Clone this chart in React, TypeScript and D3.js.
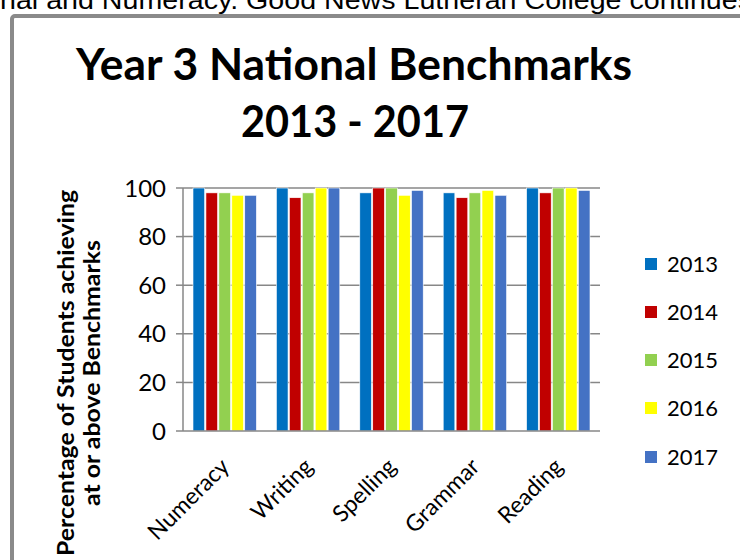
import React, { useEffect, useRef } from "react";
import * as d3 from "d3";

const categories = ["Numeracy", "Writing", "Spelling", "Grammar", "Reading"];
const years = ["2013", "2014", "2015", "2016", "2017"];
const colors = ["#0070C0", "#C00000", "#92D050", "#FFFF00", "#4472C4"];
const values2013 = [100, 100, 98, 98, 100];
const values2014 = [98, 96, 100, 96, 98];
const values2015 = [98, 98, 100, 98, 100];
const values2016 = [97, 100, 97, 99, 100];
const values2017 = [97, 100, 99, 97, 99];
const series = [values2013, values2014, values2015, values2016, values2017];
const yTicks = [0, 20, 40, 60, 80, 100];

const FONT = "Lato, 'Open Sans', sans-serif";

export default function App() {
  const ref = useRef<SVGSVGElement>(null);
  useEffect(() => {
    const svg = d3.select(ref.current);
    svg.selectAll("*").remove();
    const W = 740, H = 560;
    svg.append("rect").attr("width", W).attr("height", H).attr("fill", "#fff");

    // cut-off page text at the very top (as in the reference screenshot)
    svg.append("text").attr("x", 0).attr("y", 9)
      .attr("font-family", "'Liberation Sans', Arial, sans-serif").attr("font-size", 25)
      .attr("fill", "#000")
      .attr("textLength", 752).attr("lengthAdjust", "spacingAndGlyphs")
      .text("nal and Numeracy. Good News Lutheran College continues");

    // frame
    svg.append("rect").attr("x", 12).attr("y", 16).attr("width", 800).attr("height", 700)
      .attr("rx", 3).attr("fill", "#fff").attr("stroke", "#8a8a8a").attr("stroke-width", 4);

    // title
    svg.append("text").attr("x", 354).attr("y", 80).attr("text-anchor", "middle")
      .attr("font-family", FONT).attr("font-weight", "bold").attr("font-size", 44).attr("fill", "#000")
      .attr("textLength", 556).attr("lengthAdjust", "spacingAndGlyphs")
      .text("Year 3 National Benchmarks");
    svg.append("text").attr("x", 355).attr("y", 137).attr("text-anchor", "middle")
      .attr("font-family", FONT).attr("font-weight", "bold").attr("font-size", 44).attr("fill", "#000")
      .attr("textLength", 228).attr("lengthAdjust", "spacingAndGlyphs")
      .text("2013 - 2017");

    const x0 = 183, x1 = 600, yTop = 188, yBot = 431;
    const x = d3.scaleBand<string>().domain(categories).range([x0, x1]).padding(0);
    const y = d3.scaleLinear().domain([0, 100]).range([yBot, yTop]);
    const inner = d3.scaleBand<string>().domain(years)
      .range([10, x.bandwidth() - 10]).paddingInner(0.1).paddingOuter(0);

    // gridlines
    const g = svg.append("g");
    yTicks.forEach((t) => {
      if (t === 0) return;
      g.append("line").attr("x1", x0).attr("x2", x1).attr("y1", y(t)).attr("y2", y(t))
        .attr("stroke", "#878787").attr("stroke-width", 1.5);
    });

    // bars
    series.forEach((vals, si) => {
      svg.append("g").selectAll("rect").data(vals).join("rect")
        .attr("x", (_, i) => (x(categories[i]) as number) + (inner(years[si]) as number))
        .attr("width", inner.bandwidth())
        .attr("y", (d) => y(d))
        .attr("height", (d) => yBot - y(d))
        .attr("fill", colors[si])
        .attr("stroke", "#ffffff").attr("stroke-width", 0.6);
    });

    // axes
    svg.append("line").attr("x1", x0).attr("x2", x0).attr("y1", yTop).attr("y2", yBot)
      .attr("stroke", "#878787").attr("stroke-width", 1.5);
    svg.append("line").attr("x1", x0).attr("x2", x1).attr("y1", yBot).attr("y2", yBot)
      .attr("stroke", "#878787").attr("stroke-width", 1.5);
    yTicks.forEach((t) => {
      svg.append("line").attr("x1", x0 - 7).attr("x2", x0).attr("y1", y(t)).attr("y2", y(t))
        .attr("stroke", "#878787").attr("stroke-width", 1.5);
      svg.append("text").attr("x", 166).attr("y", y(t)).attr("dy", "0.36em")
        .attr("text-anchor", "end").attr("font-family", FONT).attr("font-size", 24)
        .attr("fill", "#000").text(String(t));
    });

    // category labels
    categories.forEach((c) => {
      const cx = (x(c) as number) + x.bandwidth() / 2 + 6;
      svg.append("text").attr("transform", `translate(${cx},${468}) rotate(-45)`)
        .attr("text-anchor", "end").attr("font-family", FONT).attr("font-size", 23)
        .attr("fill", "#000").text(c);
    });

    // y-axis title
    const yt = svg.append("text").attr("transform", "translate(74,373) rotate(-90)")
      .attr("text-anchor", "middle").attr("font-family", FONT).attr("font-weight", "bold")
      .attr("font-size", 23).attr("fill", "#000");
    yt.append("tspan").attr("x", 0).attr("y", 0)
      .attr("textLength", 366).attr("lengthAdjust", "spacingAndGlyphs")
      .text("Percentage of Students achieving");
    yt.append("tspan").attr("x", 0).attr("y", 26)
      .attr("textLength", 266).attr("lengthAdjust", "spacingAndGlyphs")
      .text("at or above Benchmarks");

    // legend
    const legY = [264, 312, 360, 408, 457];
    years.forEach((yr, i) => {
      svg.append("rect").attr("x", 645).attr("y", legY[i] - 6).attr("width", 12).attr("height", 12)
        .attr("fill", colors[i]);
      svg.append("text").attr("x", 667).attr("y", legY[i]).attr("dy", "0.36em")
        .attr("font-family", FONT).attr("font-size", 22).attr("fill", "#000").text(yr);
    });
  }, []);
  return (
    <svg ref={ref} width={740} height={560}
      style={{ position: "absolute", left: 0, top: 0, display: "block" }} />
  );
}
